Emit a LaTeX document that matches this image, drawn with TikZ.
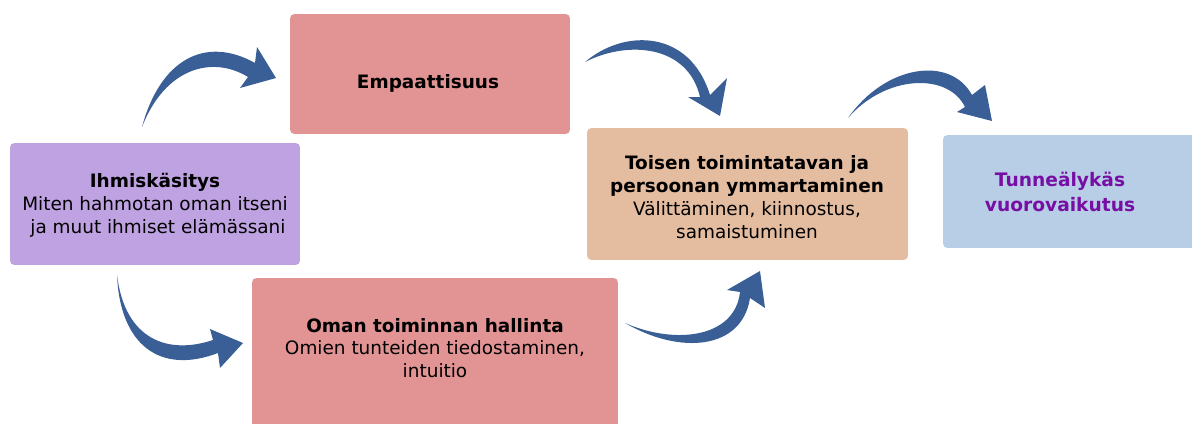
\documentclass[tikz,border=0pt]{standalone}
\usepackage{fontspec}
\setmainfont{DejaVu Sans}
\definecolor{lav}{RGB}{191,162,225}
\definecolor{pinkbox}{RGB}{226,148,148}
\definecolor{tanbox}{RGB}{228,188,160}
\definecolor{bluebox}{RGB}{184,206,230}
\definecolor{arrowblue}{RGB}{58,94,150}
\definecolor{purpletext}{RGB}{120,15,165}
\begin{document}
\begin{tikzpicture}[x=0.02cm,y=-0.02cm,
  box/.style={rounded corners=2.5pt, inner sep=0pt, draw=none},
  txt/.style={align=center, inner sep=0pt, font=\fontsize{10.5}{13}\selectfont},
  bigtxt/.style={align=center, inner sep=0pt, text=purpletext, font=\fontsize{10.6}{14.2}\selectfont\bfseries},
  arr/.style={fill=arrowblue, draw=none}]
\useasboundingbox (0,0) rectangle (1192,423);
\clip (0,0) rectangle (1192,423);
% boxes
\node[box, fill=lav, minimum width=5.8cm, minimum height=2.44cm] (ihm) at (155,204) {};
\node[box, fill=pinkbox, minimum width=5.6cm, minimum height=2.4cm] (emp) at (430,74) {};
\node[box, fill=pinkbox, minimum width=7.32cm, minimum height=3.04cm] (oman) at (435,354) {};
\node[box, fill=tanbox, minimum width=6.42cm, minimum height=2.64cm] (toi) at (747.5,194) {};
\node[box, fill=bluebox, minimum width=5.14cm, minimum height=2.26cm] (tun) at (1071.5,191.5) {};
% texts
\node[txt] (ihmt) at (155,205) {\textbf{Ihmiskäsitys}\\Miten hahmotan oman itseni\\\ ja muut ihmiset elämässani};
\node[txt] (empt) at (428,83) {\textbf{Empaattisuus}};
\node[txt] (omant) at (435,348) {\textbf{Oman toiminnan hallinta}\\Omien tunteiden tiedostaminen,\\intuitio};
\node[txt] (toit) at (747,197) {\textbf{Toisen toimintatavan ja}\\\textbf{persoonan ymmartaminen}\\Välittäminen, kiinnostus,\\samaistuminen};
\node[bigtxt] (tunt) at (1060,192) {Tunneälykäs\\vuorovaikutus};
% arrows
\fill[arr] (142,127) .. controls (160,60) and (205,35) .. (255,63) -- (257,47) -- (276,78) -- (240,88) -- (248,77) .. controls (212,55) and (165,68) .. cycle;
\fill[arr] (585,62) .. controls (625,28) and (690,30) .. (710,95) -- (727,78) -- (720,116) -- (688,97) -- (700,97) .. controls (688,45) and (628,40) .. cycle;
\fill[arr] (117,275) .. controls (120,345) and (160,375) .. (218,353) -- (220,368) -- (243,343) -- (210,329) -- (213,340) .. controls (168,355) and (125,340) .. cycle;
\fill[arr] (625,323) .. controls (680,355) and (742,350) .. (750,298) -- (765,308) -- (760,271) -- (727,290) -- (740,292) .. controls (735,338) and (675,345) .. cycle;
\fill[arr] (848,118) .. controls (885,65) and (950,55) .. (972,95) -- (985,85) -- (992,121) -- (957,112) -- (965,107) .. controls (948,72) and (885,75) .. cycle;
\end{tikzpicture}
\end{document}
